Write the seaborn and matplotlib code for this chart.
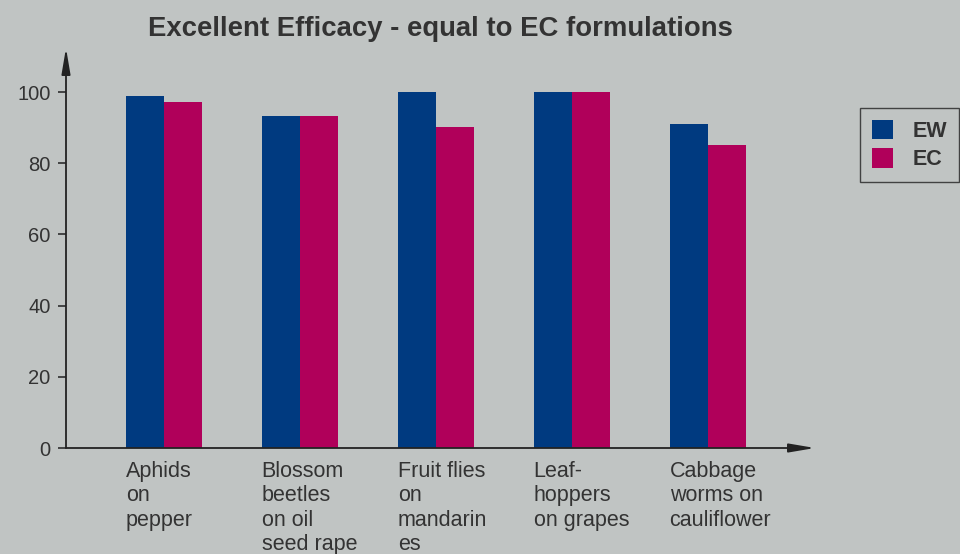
import numpy as np
import pandas as pd
import matplotlib
matplotlib.use('Agg')
import matplotlib.pyplot as plt
import seaborn as sns

# values
categories = ['Aphids\non\npepper', 'Blossom\nbeetles\non oil\nseed rape',
              'Fruit flies\non\nmandarin\nes', 'Leaf-\nhoppers\non grapes',
              'Cabbage\nworms on\ncauliflower']
ew_values = [99, 93.3, 100, 100, 91]
ec_values = [97.2, 93.3, 90.2, 100, 85.1]
series = ['EW', 'EC']
y_ticks = [0, 20, 40, 60, 80, 100]

BG = '#c0c4c3'
TXT = '#333333'
palette = {'EW': '#003a80', 'EC': '#b0005a'}

df = pd.DataFrame({
    'category': categories * 2,
    'formulation': ['EW'] * len(categories) + ['EC'] * len(categories),
    'efficacy': ew_values + ec_values,
})

sns.set_theme(style='white')
plt.rcParams['font.family'] = ['Liberation Sans', 'DejaVu Sans']

fig = plt.figure(figsize=(9.6, 5.54), dpi=100, facecolor=BG)
ax = fig.add_axes([66 / 960, 1 - 448 / 554, (815 - 66) / 960, (448 - 48) / 554])
ax.set_facecolor(BG)

bar_width = 0.56
sns.barplot(data=df, x='category', y='efficacy', hue='formulation',
            hue_order=series, palette=palette, width=bar_width, gap=0,
            saturation=1, edgecolor='none', linewidth=0, ax=ax)

ax.set_xlim(-0.72, 4.79)
ax.set_ylim(0, 112.4)
ax.set_xlabel('')
ax.set_ylabel('')
for s in ax.spines.values():
    s.set_visible(False)

# axes with arrow heads
ax.annotate('', xy=(0, 1.0), xytext=(0, 0), xycoords='axes fraction',
            arrowprops=dict(arrowstyle='-|>,head_length=1.3,head_width=0.22',
                            color='#222222', lw=1.3, shrinkA=0, shrinkB=0))
ax.annotate('', xy=(1.0, 0), xytext=(0, 0), xycoords='axes fraction',
            arrowprops=dict(arrowstyle='-|>,head_length=1.3,head_width=0.22',
                            color='#222222', lw=1.3, shrinkA=0, shrinkB=0))

ax.set_yticks(y_ticks)
ax.tick_params(axis='y', direction='out', length=6, width=1.1, color='#222222',
               labelsize=14.5, labelcolor=TXT, pad=5, left=True)
ax.set_xticks(range(len(categories)))
ax.set_xticklabels([])
ax.tick_params(axis='x', length=0)

# left aligned category labels under the first bar of each group
trans = ax.get_xaxis_transform()
for i, lab in enumerate(categories):
    ax.text(i - bar_width / 2, -0.033, lab, transform=trans, ha='left', va='top',
            fontsize=15.5, color=TXT, linespacing=1.2, clip_on=False)

fig.text(440 / 960, 1 - 29 / 554, 'Excellent Efficacy - equal to EC formulations',
         ha='center', va='center', fontsize=19.8, fontweight='bold', color=TXT)

handles, labels = ax.get_legend_handles_labels()
ax.get_legend().remove()
leg = fig.legend(handles, labels, loc='upper left',
                 bbox_to_anchor=(860 / 960, 1 - 108 / 554),
                 bbox_transform=fig.transFigure, borderaxespad=0,
                 frameon=True, fancybox=False, facecolor=BG, edgecolor='#222222',
                 prop={'size': 15.5, 'weight': 'bold'}, handlelength=1.0,
                 handleheight=1.0, handletextpad=0.9, labelspacing=0.3,
                 borderpad=0.55)
leg.get_frame().set_linewidth(1.0)
for t in leg.get_texts():
    t.set_color(TXT)

fig.savefig('out.png', dpi=100, facecolor=BG)
